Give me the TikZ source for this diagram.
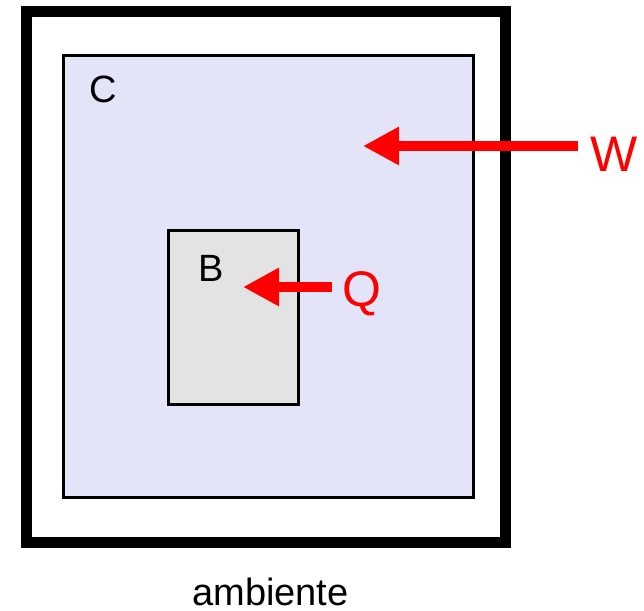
\documentclass[tikz,border=0pt]{standalone}
\usepackage{fontspec}
\setmainfont{Liberation Sans}
\usetikzlibrary{arrows.meta}
\definecolor{lav}{RGB}{228,228,248}
\definecolor{lgray}{RGB}{227,227,227}
\definecolor{hred}{RGB}{255,0,0}
\tikzset{
  box/.style={draw=black, rectangle, inner sep=0pt, outer sep=0pt},
  blacklabel/.style={font=\fontsize{38}{40}\selectfont, inner sep=0pt, anchor=base},
  redlabel/.style={font=\fontsize{50}{52}\selectfont, text=hred, inner sep=0pt, anchor=base},
  flow/.style={draw=hred, line width=10.7pt, -{Triangle[length=36pt,width=36pt]}}
}
\begin{document}
\begin{tikzpicture}[x=1pt,y=-1pt]
\useasboundingbox (0,0) rectangle (644,610);
\node[box, line width=11pt, minimum width=479pt, minimum height=530.5pt] (amb) at (266,276.75) {};
\node[box, line width=3pt, fill=lav, minimum width=410pt, minimum height=442.5pt] (C) at (268,276.25) {};
\node[box, line width=3pt, fill=lgray, minimum width=130pt, minimum height=174pt] (B) at (233.5,317) {};
\node[blacklabel] (Clab) at (103,102) {C};
\node[blacklabel] (Blab) at (211,281) {B};
\node[blacklabel] (amblab) at (270.5,605.5) {ambiente};
\node[redlabel] (Wlab) at (614,171) {W};
\node[redlabel] (Qlab) at (361.5,306) {Q};
\coordinate (Ws) at (578,146);
\coordinate (We) at (363,146);
\coordinate (Qs) at (332,287);
\coordinate (Qe) at (243,287);
\draw[flow] (Ws) -- (We);
\draw[flow] (Qs) -- (Qe);
\end{tikzpicture}
\end{document}
